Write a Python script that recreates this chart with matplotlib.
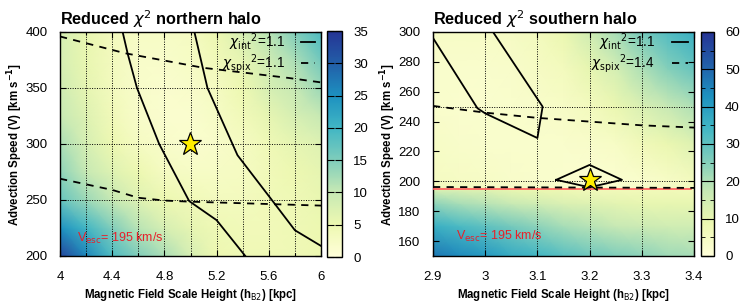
import matplotlib
matplotlib.use('Agg')
import matplotlib.pyplot as plt
from matplotlib.colors import LinearSegmentedColormap
import numpy as np

plt.rcParams['font.family'] = ['Liberation Sans', 'DejaVu Sans']
plt.rcParams['mathtext.fontset'] = 'dejavusans'

# ---- northern halo grid (reduced chi2) ----
north_hb = [4.0, 4.2, 4.4, 4.6, 4.8, 5.0, 5.2, 5.4, 5.6, 5.8, 6.0]
north_v = [200, 225, 250, 275, 300, 325, 350, 375, 400]
north_chi2 = [
    [33, 26, 19, 15, 12, 8, 5, 4.5, 4.5, 4.5, 5],
    [25, 20, 15, 11, 8, 6, 4.5, 4, 4, 4.5, 5],
    [17, 13, 10, 7, 5, 4, 3.5, 3.5, 4, 4.5, 5.5],
    [14, 10, 7, 5, 3, 2.5, 2.5, 3, 4, 5, 6],
    [12, 8, 5, 3, 2, 1.5, 2, 3, 4.5, 6, 7],
    [10, 7, 4, 2, 1.5, 1.5, 2.5, 4, 6, 8, 10],
    [9, 6, 3.5, 2, 1.5, 2, 3, 5, 8, 10, 13],
    [8, 5.5, 3.5, 2, 2, 2.5, 4, 6, 9, 12, 16],
    [8, 5.5, 3.5, 2.5, 2.5, 3, 5, 8, 11, 15, 19],
]
# contour lines (chi2_int = 1.1, chi2_spix = 1.1)
north_int_a_hb = [4.48, 4.52, 4.59, 4.76, 4.99, 5.2, 5.42]
north_int_a_v = [400, 380, 350, 300, 249, 232, 200]
north_int_b_hb = [5.03, 5.13, 5.36, 5.63, 5.8, 6.0]
north_int_b_v = [400, 350, 290, 249, 223, 209]
north_spix_a_hb = [4.0, 4.5, 5.1, 5.75, 6.0]
north_spix_a_v = [396, 381, 368, 359, 355]
north_spix_b_hb = [4.0, 4.4, 4.6, 4.8, 5.0, 6.0]
north_spix_b_v = [269, 259, 252, 249.5, 248.5, 245]
north_best = (5.0, 300)
north_labels = [r'$\chi_{\rm int}{}^{2}$=1.1', r'$\chi_{\rm spix}{}^{2}$=1.1']

# ---- southern halo grid ----
south_hb = [2.9, 2.95, 3.0, 3.05, 3.1, 3.15, 3.2, 3.25, 3.3, 3.35, 3.4]
south_v = [150, 170, 185, 194, 196, 200, 225, 250, 275, 300]
south_chi2 = [
    [47, 44, 41, 37, 34, 31, 28, 26, 24, 22, 21],
    [36, 33, 30, 27, 24, 21, 19, 17, 16, 15, 15],
    [24, 21, 19, 17, 15, 13, 12, 11, 10, 10, 10],
    [14, 13, 12, 10, 9, 8, 7, 7, 7, 7, 7],
    [6, 5.5, 5, 4.5, 4, 3, 2.5, 2.5, 3.5, 4.5, 6],
    [5, 4.5, 4, 3.5, 3, 2.5, 2, 2, 3, 4, 6],
    [4, 3.5, 3, 3, 3, 3, 3.5, 4, 7, 9, 12],
    [3, 2.5, 2.5, 3, 3.5, 4, 6, 9, 13, 17, 20],
    [3, 3, 3, 3.5, 4.5, 6, 10, 14, 20, 25, 29],
    [4, 4, 4, 4.5, 6, 9, 15, 21, 27, 32, 36],
]
south_int_hb = [2.9, 2.985, 3.0, 3.1, 3.11, 3.015]
south_int_v = [296, 249, 245.5, 229, 250, 300]
south_spix_hb = [2.9, 3.0, 3.1, 3.2, 3.3, 3.4]
south_spix_v = [250.5, 246, 242.5, 240, 237.5, 236]
south_spix_low_hb = [2.9, 3.4]
south_spix_low_v = [196.2, 195.6]
south_diamond_hb = [3.136, 3.2, 3.262, 3.2, 3.136]
south_diamond_v = [201, 211, 201, 196, 201]
south_best = (3.2, 201)
south_labels = [r'$\chi_{\rm int}{}^{2}$=1.1', r'$\chi_{\rm spix}{}^{2}$=1.4']
v_esc = 194.6

cmap = LinearSegmentedColormap.from_list(
    'ylgnbu', ['#ffffd9', '#edf8b1', '#c7e9b4', '#7fcdbb', '#41b6c4',
               '#1d91c0', '#225ea8', '#253494'])

W, H = 747, 304
fig = plt.figure(figsize=(W / 100, H / 100), dpi=100)


def box(l, t, r, b):
    return [l / W, 1 - b / H, (r - l) / W, (b - t) / H]


def style_axes(ax):
    ax.tick_params(direction='in', top=True, right=True, which='both',
                   labelsize=9.5, length=4, width=0.8)
    ax.tick_params(axis='x', pad=11)
    ax.tick_params(axis='y', pad=9)
    ax.tick_params(which='minor', length=2.5)
    for s in ax.spines.values():
        s.set_linewidth(1.0)


def style_cbar(cb, vmax, step, minor=None):
    cb.set_ticks(np.arange(0, vmax + 1, step))
    cb.ax.tick_params(direction='in', left=True, right=True, length=5,
                      width=0.8, labelsize=9.5, pad=8)
    if minor:
        cb.ax.set_yticks(np.arange(0, vmax + 1, minor), minor=True)
        cb.ax.tick_params(which='minor', direction='in', left=True,
                          right=True, length=3)
    cb.outline.set_linewidth(1.0)


def key(ax, labels, text_x, line_x0, line_x1):
    # gnuplot-style key: text right-aligned, then the line sample
    for row, (lab, ls) in enumerate(zip(labels, ['-', '--'])):
        y = 0.955 - row * 0.094
        ax.text(text_x, y, lab, transform=ax.transAxes, ha='right',
                va='center', fontsize=9.8, zorder=6)
        ax.plot([line_x0, line_x1], [y, y], transform=ax.transAxes,
                color='black', lw=1.3, zorder=6,
                dashes=dash if ls == '--' else (None, None))


dash = (4, 3.5)
grid_kw = dict(color='black', lw=0.7, ls=(0, (1, 1.5)), zorder=2)
xlab = r'Magnetic Field Scale Height (h$_{\rm B2}$) [kpc]'
ylab = r'Advection Speed (V) [km s$^{\mathbf{-1}}$]'

# ---------------- northern halo ----------------
ax1 = fig.add_axes(box(60, 32, 321, 256))
m1 = ax1.pcolormesh(north_hb, north_v, np.array(north_chi2), cmap=cmap,
                    vmin=0, vmax=35, shading='gouraud', zorder=0)
for x in np.arange(4.2, 5.9, 0.2):
    ax1.axvline(x, **grid_kw)
for y in [250, 300, 350]:
    ax1.axhline(y, **grid_kw)
ax1.plot(north_int_a_hb, north_int_a_v, color='black', lw=1.3, zorder=3)
ax1.plot(north_int_b_hb, north_int_b_v, color='black', lw=1.3, zorder=3)
ax1.plot(north_spix_a_hb, north_spix_a_v, color='black', lw=1.3,
         dashes=dash, zorder=3)
ax1.plot(north_spix_b_hb, north_spix_b_v, color='black', lw=1.3,
         dashes=dash, zorder=3)
ax1.plot(*north_best, marker='*', ms=17, mfc='#ffee00', mec='black',
         mew=0.9, zorder=5)
ax1.text(4.13, 213, r'V$_{\rm esc}$= 195 km/s', color='#e8202a',
         fontsize=9, zorder=4)
ax1.set_xlim(4, 6)
ax1.set_ylim(200, 400)
ax1.set_xticks(np.arange(4, 6.01, 0.4))
ax1.set_xticks(np.arange(4, 6.01, 0.2), minor=True)
ax1.set_xticklabels(['4', '4.4', '4.8', '5.2', '5.6', '6'])
ax1.set_yticks(np.arange(200, 401, 50))
style_axes(ax1)
ax1.set_xlabel(xlab, fontsize=8.3, fontweight='bold', labelpad=3)
ax1.set_ylabel(ylab, fontsize=8.3, fontweight='bold', labelpad=0)
ax1.set_title(r'Reduced $\chi^2$ northern halo', loc='left',
              fontsize=11.7, fontweight='bold', pad=5)
key(ax1, north_labels, 0.862, 0.925, 0.977)
cax1 = fig.add_axes(box(327, 31, 342, 257))
cb1 = fig.colorbar(m1, cax=cax1)
style_cbar(cb1, 35, 5)

# ---------------- southern halo ----------------
ax2 = fig.add_axes(box(433, 32, 694, 256))
m2 = ax2.pcolormesh(south_hb, south_v, np.array(south_chi2), cmap=cmap,
                    vmin=0, vmax=60, shading='gouraud', zorder=0)
for x in [3.0, 3.1, 3.2, 3.3]:
    ax2.axvline(x, **grid_kw)
for y in [200, 250]:
    ax2.axhline(y, **grid_kw)
ax2.plot([2.9, 3.395], [v_esc, v_esc], color='#ff5a5a', lw=1.2, zorder=3)
ax2.plot(south_int_hb, south_int_v, color='black', lw=1.3, zorder=3)
ax2.plot(south_diamond_hb, south_diamond_v, color='black', lw=1.3, zorder=3)
ax2.plot(south_spix_hb, south_spix_v, color='black', lw=1.3, dashes=dash,
         zorder=3)
ax2.plot(south_spix_low_hb, south_spix_low_v, color='black', lw=1.3,
         dashes=dash, zorder=3)
ax2.plot(*south_best, marker='*', ms=17, mfc='#ffee00', mec='black',
         mew=0.9, zorder=5)
ax2.text(2.944, 161, r'V$_{\rm esc}$= 195 km/s', color='#e8202a',
         fontsize=9, zorder=4)
ax2.set_xlim(2.9, 3.4)
ax2.set_ylim(150, 300)
ax2.set_xticks(np.arange(2.9, 3.401, 0.1))
ax2.set_xticklabels(['2.9', '3', '3.1', '3.2', '3.3', '3.4'])
ax2.set_yticks(np.arange(160, 301, 20))
style_axes(ax2)
ax2.set_xlabel(xlab, fontsize=8.3, fontweight='bold', labelpad=3)
ax2.set_ylabel(ylab, fontsize=8.3, fontweight='bold', labelpad=0)
ax2.set_title(r'Reduced $\chi^2$ southern halo', loc='left',
              fontsize=11.7, fontweight='bold', pad=5)
key(ax2, south_labels, 0.85, 0.916, 0.977)
cax2 = fig.add_axes(box(701, 32, 714, 256))
cb2 = fig.colorbar(m2, cax=cax2)
style_cbar(cb2, 60, 10, minor=5)

fig.savefig('out.png', dpi=100)
